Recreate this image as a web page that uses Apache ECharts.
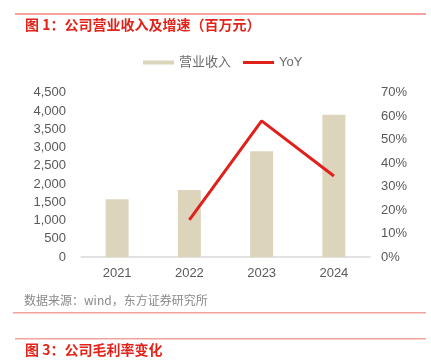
<!DOCTYPE html>
<html><head><meta charset="utf-8">
<script src="https://cdn.jsdelivr.net/npm/echarts@6/dist/echarts.min.js"></script>
<style>html,body{margin:0;padding:0;background:#fff}#c{width:431px;height:362px}</style>
</head><body><div id="c"></div>
<script>
var categories = ['2021', '2022', '2023', '2024'];
var revenue = [1580, 1835, 2895, 3898];
var yoy = [null, 0.158, 0.58, 0.345];
var leftTicks = {min: 0, max: 4500, interval: 500};
var rightTicks = {min: 0, max: 0.7, interval: 0.1};
var titleText = '图 1：公司营业收入及增速（百万元）';
var sourceText = '数据来源：wind，东方证券研究所';
var nextTitle = '图 3：公司毛利率变化';

var FONT = '"Liberation Sans", "Noto Sans CJK SC", sans-serif';
var chart = echarts.init(document.getElementById('c'));
chart.setOption({
  animation: false,
  backgroundColor: '#fff',
  textStyle: {fontFamily: FONT},
  legend: [{
    top: 56, left: 143, padding: 0,
    itemWidth: 31, itemHeight: 4,
    textStyle: {color: '#6b6b6b', fontSize: 13, fontFamily: FONT},
    data: [{name: '营业收入', icon: 'rect'}]
  }, {
    top: 56, left: 243, padding: 0,
    itemWidth: 31, itemHeight: 3,
    textStyle: {color: '#6b6b6b', fontSize: 13, fontFamily: FONT},
    data: [{name: 'YoY', icon: 'rect', itemStyle: {color: '#e0201b'}}]
  }],
  grid: {left: 81, right: 61, top: 92.7, bottom: 105, containLabel: false},
  xAxis: {
    type: 'category', data: categories,
    axisLine: {lineStyle: {color: '#d9d9d9', width: 1.5}},
    axisTick: {show: false},
    axisLabel: {color: '#595959', fontSize: 13, margin: 10, fontFamily: FONT}
  },
  yAxis: [{
    type: 'value', min: leftTicks.min, max: leftTicks.max, interval: leftTicks.interval,
    axisLine: {show: false}, axisTick: {show: false}, splitLine: {show: false},
    axisLabel: {color: '#595959', fontSize: 13, margin: 15, fontFamily: FONT,
      formatter: function (v) { return v.toLocaleString('en-US'); }}
  }, {
    type: 'value', min: rightTicks.min, max: rightTicks.max, interval: rightTicks.interval,
    axisLine: {show: false}, axisTick: {show: false}, splitLine: {show: false},
    axisLabel: {color: '#595959', fontSize: 13, margin: 11, fontFamily: FONT,
      formatter: function (v) { return Math.round(v * 100) + '%'; }}
  }],
  series: [{
    name: '营业收入', type: 'bar', data: revenue, barWidth: 23,
    itemStyle: {color: '#ddd4bc'}
  }, {
    name: 'YoY', type: 'line', yAxisIndex: 1, data: yoy,
    symbol: 'none', lineStyle: {color: '#e0201b', width: 3},
    itemStyle: {color: '#e0201b'}
  }],
  graphic: [
    {type: 'rect', shape: {x: 15, y: 13, width: 411, height: 2}, style: {fill: '#f2a39d'}},
    {type: 'text', left: 25, top: 18, style: {text: titleText, fill: '#e2231a', font: 'bold 14px "Noto Sans CJK SC", sans-serif'}},
    {type: 'text', left: 24, top: 294, style: {text: sourceText, fill: '#8a8a8a', font: '12px "Noto Sans CJK SC", sans-serif'}},
    {type: 'rect', shape: {x: 13, y: 312, width: 413, height: 1.5}, style: {fill: '#f2a39d'}},
    {type: 'rect', shape: {x: 15, y: 338, width: 411, height: 1.5}, style: {fill: '#f2a39d'}},
    {type: 'text', left: 25, top: 343, style: {text: nextTitle, fill: '#e2231a', font: 'bold 14px "Noto Sans CJK SC", sans-serif'}}
  ]
});
</script></body></html>
